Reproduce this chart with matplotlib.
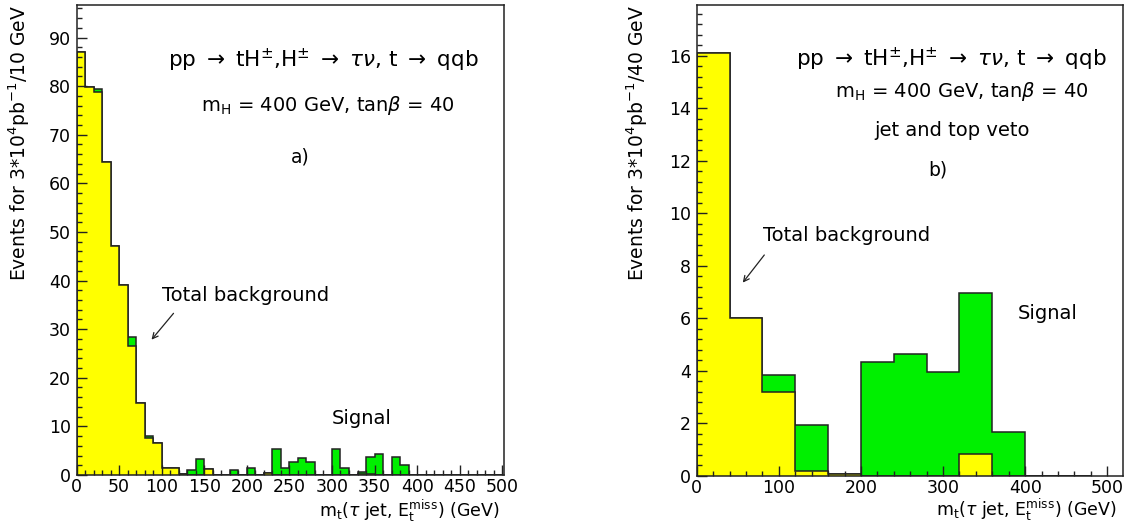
import numpy as np
import matplotlib
matplotlib.use("Agg")
import matplotlib.pyplot as plt
from matplotlib.ticker import MultipleLocator

# ---- data: panel a) (10 GeV bins) ----
edges_a = np.arange(0, 510, 10)
background_a = [87.1, 79.8, 78.8, 64.4, 47.1, 39.1, 26.6, 14.8, 7.6, 6.6,
                1.4, 1.5, 0.2, 0.0, 0.0, 1.3, 0.0, 0.0, 0.0, 0.0,
                0.0, 0.0, 0.5, 0.0, 0.0, 0.0, 0.0, 0.0, 0.0, 0.0,
                0.0, 0.0, 0.0, 0.3, 0.2, 0.0, 0.0, 0.0, 0.0, 0.1,
                0.0, 0.0, 0.0, 0.0, 0.0, 0.0, 0.0, 0.0, 0.0, 0.0]
signal_a = [0.0, 0.0, 0.7, 0.0, 0.0, 0.0, 1.7, 0.0, 0.5, 0.0,
            0.0, 0.0, 0.0, 1.1, 3.2, 0.0, 0.0, 0.0, 1.0, 0.0,
            1.5, 0.0, 0.0, 5.3, 1.4, 2.6, 3.4, 2.6, 0.0, 0.0,
            5.3, 1.5, 0.0, 0.4, 3.4, 4.3, 0.0, 3.6, 2.0, 0.0,
            0.0, 0.0, 0.0, 0.0, 0.0, 0.0, 0.0, 0.0, 0.0, 0.0]

# ---- data: panel b) (40 GeV bins) ----
edges_b = np.arange(0, 520, 40)
background_b = [16.1, 6.0, 3.2, 0.2, 0.07, 0.0, 0.0, 0.0, 0.82, 0.0, 0.0, 0.0]
signal_b = [0.0, 0.0, 0.65, 1.73, 0.0, 4.35, 4.64, 3.95, 6.15, 1.66, 0.0, 0.0]

YELLOW = "#ffff00"
GREEN = "#00f000"
FS = 12.5
FT = 13.5

fig = plt.figure(figsize=(11.27, 5.23), dpi=100)
ax1 = fig.add_axes([0.0679, 0.0918, 0.3793, 0.8987])
ax2 = fig.add_axes([0.6182, 0.0899, 0.3785, 0.9012])

XLABEL = r"m$_\mathrm{t}$($\tau$ jet, E$_\mathrm{t}^\mathrm{miss}$) (GeV)"
PROC = r"pp $\rightarrow$ tH$^{\pm}$,H$^{\pm}$ $\rightarrow$ $\tau\nu$, t $\rightarrow$ qqb"
MASS = r"m$_\mathrm{H}$ = 400 GeV, tan$\beta$ = 40"


def draw(ax, edges, bg, sig):
    bg = np.asarray(bg)
    tot = bg + np.asarray(sig)
    ax.stairs(tot, edges, fill=True, color=GREEN, baseline=0)
    ax.stairs(tot, edges, color="#222222", lw=1.1, baseline=0)
    ax.stairs(bg, edges, fill=True, color=YELLOW, baseline=0)
    ax.stairs(bg, edges, color="#222222", lw=1.1, baseline=0)


def style(ax, xmaj, xmin, ymaj, ymin):
    ax.xaxis.set_major_locator(MultipleLocator(xmaj))
    ax.xaxis.set_minor_locator(MultipleLocator(xmin))
    ax.yaxis.set_major_locator(MultipleLocator(ymaj))
    ax.yaxis.set_minor_locator(MultipleLocator(ymin))
    ax.tick_params(which="both", direction="in", top=False, right=False,
                   labelsize=FS, width=1, color="#222222")
    ax.tick_params(which="major", length=7, pad=4)
    ax.tick_params(axis="x", which="major", pad=2)
    ax.tick_params(which="minor", length=3.5)
    for s in ax.spines.values():
        s.set_linewidth(1.1)
        s.set_color("#222222")


# ---------- panel a ----------
draw(ax1, edges_a, background_a, signal_a)
ax1.set_xlim(0, 502)
ax1.set_ylim(0, 96.7)
style(ax1, 50, 10, 10, 2)
ax1.set_ylabel(r"Events for 3*10$^4$pb$^{-1}$/10 GeV", fontsize=FT, loc="top", labelpad=12)
ax1.set_xlabel(XLABEL, fontsize=12.5, loc="right")
ax1.xaxis.set_label_coords(0.99, -0.048)
ax1.text(0.577, 0.883, PROC, transform=ax1.transAxes, ha="center", va="center", fontsize=15.5)
ax1.text(0.587, 0.787, MASS, transform=ax1.transAxes, ha="center", va="center", fontsize=FT + 0.5)
ax1.text(0.523, 0.677, "a)", transform=ax1.transAxes, ha="center", va="center", fontsize=FT)
ax1.text(0.2, 0.381, "Total background", transform=ax1.transAxes,
         ha="left", va="center", fontsize=FT + 0.5)
ax1.annotate("", xy=(86, 27.4), xytext=(116, 33.7),
             arrowprops=dict(arrowstyle="->", color="#222222", lw=0.9))
ax1.text(300, 11.6, "Signal", ha="left", va="center", fontsize=FT + 0.5)

# ---------- panel b ----------
draw(ax2, edges_b, background_b, signal_b)
ax2.set_xlim(0, 519.5)
ax2.set_ylim(0, 17.95)
style(ax2, 100, 20, 2, 0.4)
ax2.set_ylabel(r"Events for 3*10$^4$pb$^{-1}$/40 GeV", fontsize=FT, loc="top", labelpad=14)
ax2.set_xlabel(XLABEL, fontsize=12.5, loc="right")
ax2.xaxis.set_label_coords(0.985, -0.044)
ax2.text(0.598, 0.883, PROC, transform=ax2.transAxes, ha="center", va="center", fontsize=15.5)
ax2.text(0.622, 0.815, MASS, transform=ax2.transAxes, ha="center", va="center", fontsize=FT + 0.5)
ax2.text(0.598, 0.734, "jet and top veto", transform=ax2.transAxes,
         ha="center", va="center", fontsize=FT + 0.5)
ax2.text(0.566, 0.649, "b)", transform=ax2.transAxes, ha="center", va="center", fontsize=FT)
ax2.text(0.155, 0.511, "Total background", transform=ax2.transAxes,
         ha="left", va="center", fontsize=FT + 0.5)
ax2.annotate("", xy=(54, 7.28), xytext=(84.4, 8.5),
             arrowprops=dict(arrowstyle="->", color="#222222", lw=0.9))
ax2.text(391, 6.2, "Signal", ha="left", va="center", fontsize=FT + 0.5)

fig.savefig("out.png", dpi=100)
